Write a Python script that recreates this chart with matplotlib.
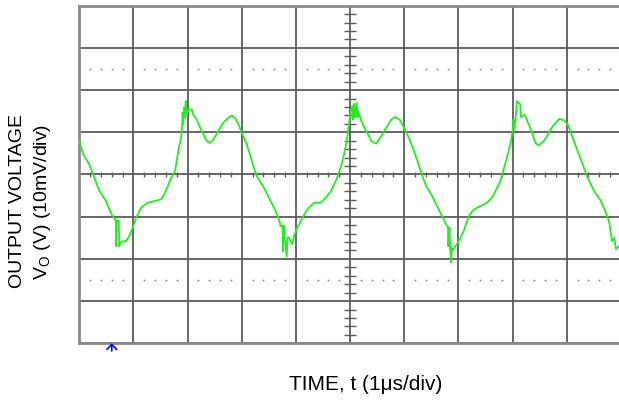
import numpy as np
import matplotlib
matplotlib.use("Agg")
import matplotlib.pyplot as plt

plt.rcParams['font.family'] = ['Liberation Sans', 'DejaVu Sans']

# scope trace: time in us, output ripple in mV (10 mV/div, 1 us/div)
time_us = [0.00, 0.076, 0.186, 0.279, 0.371, 0.495, 0.556, 0.618, 0.679, 0.683,
           0.692, 0.729, 0.740, 0.753, 0.803, 0.864, 0.925, 0.988, 1.049, 1.141,
           1.265, 1.418, 1.510, 1.571, 1.634, 1.695, 1.768, 1.829, 1.879, 1.903,
           1.907, 1.922, 1.935, 1.953, 1.966, 1.985, 2.014, 2.077, 2.106, 2.169,
           2.230, 2.291, 2.354, 2.415, 2.476, 2.568, 2.660, 2.752, 2.815, 2.876,
           2.937, 3.000, 3.092, 3.153, 3.214, 3.277, 3.338, 3.430, 3.535, 3.627,
           3.688, 3.720, 3.753, 3.762, 3.781, 3.799, 3.830, 3.845, 3.873, 3.934,
           3.965, 4.026, 4.119, 4.211, 4.335, 4.458, 4.551, 4.643, 4.735, 4.827,
           4.888, 4.938, 4.981, 5.012, 5.042, 5.054, 5.073, 5.092, 5.123, 5.138,
           5.147, 5.221, 5.300, 5.392, 5.485, 5.577, 5.669, 5.761, 5.824, 5.917,
           6.009, 6.101, 6.193, 6.286, 6.347, 6.408, 6.500, 6.592, 6.684, 6.777,
           6.808, 6.814, 6.836, 6.846, 6.864, 6.882, 6.906, 7.006, 7.098, 7.190,
           7.283, 7.405, 7.528, 7.620, 7.681, 7.774, 7.836, 7.897, 7.958, 8.003,
           8.017, 8.036, 8.054, 8.082, 8.143, 8.156, 8.174, 8.224, 8.298, 8.359,
           8.420, 8.483, 8.575, 8.636, 8.741, 8.863, 8.955, 9.018, 9.110, 9.203,
           9.295, 9.387, 9.509, 9.633, 9.725, 9.786, 9.836, 9.878, 9.909, 9.959]
vout_mv = [8.1, 4.7, 2.4, -0.8, -3.9, -6.3, -8.3, -9.9, -10.9, -17.0,
           -10.9, -10.9, -17.0, -16.1, -15.8, -15.8, -14.6, -12.6, -10.3, -7.9,
           -6.7, -6.2, -5.9, -4.7, -2.8, -0.8, 0.8, 5.5, 8.7, 11.9,
           14.7, 11.9, 15.9, 13.5, 17.4, 14.2, 15.4, 15.4, 14.2, 13.0,
           11.1, 9.5, 7.9, 7.5, 8.3, 10.3, 12.3, 13.4, 14.0, 13.4,
           11.9, 9.9, 7.1, 4.7, 2.0, -0.4, -1.6, -3.6, -6.3, -8.7,
           -10.7, -12.3, -12.1, -18.2, -12.1, -15.4, -19.4, -14.9, -15.0, -16.6,
           -14.6, -12.6, -10.3, -8.3, -6.7, -6.7, -5.5, -4.0, -1.6, 1.6,
           4.7, 7.9, 11.9, 15.0, 16.2, 13.0, 16.8, 13.5, 17.0, 13.5,
           15.0, 12.3, 10.3, 7.9, 7.3, 9.1, 11.1, 13.0, 13.6, 13.0,
           10.7, 8.3, 5.1, 1.6, -0.8, -2.8, -4.7, -7.1, -9.5, -11.9,
           -12.3, -17.0, -12.6, -16.6, -20.8, -17.4, -17.8, -15.8, -13.4, -9.9,
           -8.3, -7.5, -6.7, -5.5, -4.0, -1.6, 1.2, 4.0, 7.1, 10.3,
           13.0, 10.7, 13.0, 17.4, 16.6, 13.5, 13.8, 14.2, 11.9, 9.9,
           7.5, 6.9, 7.9, 9.1, 11.4, 13.2, 12.8, 11.9, 8.7, 5.5,
           2.4, -0.8, -4.0, -6.3, -9.1, -11.4, -15.8, -15.0, -17.7, -17.0]

trigger_us = 0.6

fig = plt.figure(figsize=(6.19, 4.03), dpi=100)
ax = fig.add_axes([0.128, 0.148, 0.875, 0.838])
ax.set_xlim(0, 10)
ax.set_ylim(-40, 40)

grid_col = '#5c5c5c'
ax.set_xticks(np.arange(0, 11, 1))
ax.set_yticks(np.arange(-40, 41, 10))
ax.tick_params(length=0, labelbottom=False, labelleft=False)
ax.grid(True, color=grid_col, lw=1.3)
for s in ax.spines.values():
    s.set_color('#8a8a8a')
    s.set_linewidth(2)

# minor graticule marks on the centre cross
minor_t = np.arange(0.2, 10, 0.2)
minor_t = minor_t[np.abs(minor_t - np.round(minor_t)) > 0.05]
ax.vlines(minor_t, -0.6, 0.6, color=grid_col, lw=1)
minor_v = np.arange(-38, 39, 2)
minor_v = minor_v[minor_v % 10 != 0]
ax.hlines(minor_v, 4.89, 5.11, color=grid_col, lw=1)

# dotted rows at +/-2.5 div
for yy in (25, -25):
    ax.plot(minor_t, np.full_like(minor_t, yy), ls='none', marker='s',
            ms=1.2, mew=0, color='#888888')

ax.plot(time_us, vout_mv, color='#22ee22', lw=1.3, zorder=3)

# trigger marker under the graticule
ax.annotate('', xy=(trigger_us, -40.0), xytext=(trigger_us, -41.8),
            annotation_clip=False,
            arrowprops=dict(arrowstyle='->,head_length=0.35,head_width=0.35',
                            color='blue', lw=1.2, mutation_scale=10,
                            shrinkA=0, shrinkB=0))

fig.text(0.029, 0.5, 'OUTPUT VOLTAGE', rotation=90, ha='center', va='center',
         fontsize=14)
fig.text(0.068, 0.5, r'V$_\mathregular{O}$ (V) (10mV/div)', rotation=90,
         ha='center', va='center', fontsize=14)
fig.text(0.59, 0.045, 'TIME, t (1\u03bcs/div)', ha='center', va='center',
         fontsize=15)

fig.savefig('out.png', dpi=100)
